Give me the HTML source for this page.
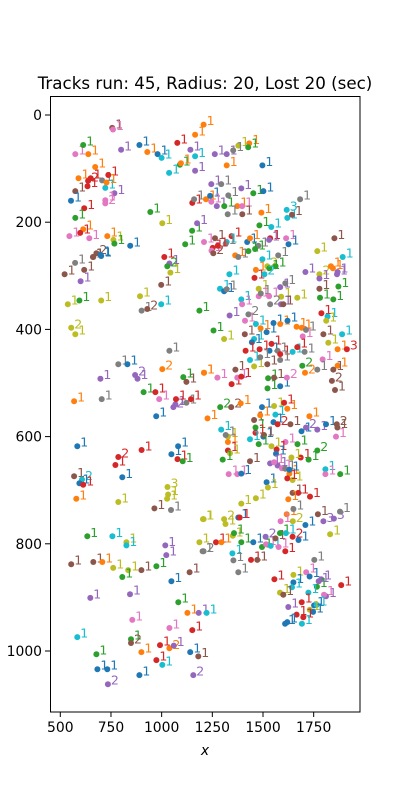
<!DOCTYPE html>
<html><head><meta charset="utf-8"><style>
html,body{margin:0;padding:0;background:#fff;}
svg{display:block;font-family:"DejaVu Sans","Liberation Sans",sans-serif;}
</style></head><body>
<svg id="chart" width="400" height="800" viewBox="0 0 400 800" xmlns="http://www.w3.org/2000/svg">
<rect width="400" height="800" fill="#fff"/>
<text x="205" y="89" text-anchor="middle" font-size="16.7">Tracks run: 45, Radius: 20, Lost 20 (sec)</text>
<g id="marks"></g>
<rect x="50.5" y="96.5" width="309.5" height="615.5" fill="none" stroke="#000" stroke-width="1"/>
<g id="xaxis"></g>
<g id="yaxis"></g>
<text x="205" y="755" text-anchor="middle" font-size="13.9" font-style="italic">x</text>
</svg>
<script>
const xTicks=[500,750,1000,1250,1500,1750];
const yTicks=[0,200,400,600,800,1000];
const palette=["#1f77b4","#ff7f0e","#2ca02c","#d62728","#9467bd","#8c564b","#e377c2","#7f7f7f","#bcbd22","#17becf"];
// group A
const xsA=[574,613,638,756,760,800,890,929,980,1000,1037,1077,1090,1095,1142,1165,1165,1165,672,590,637,650,634,574,553,618,574,613,598,545,643,706,737,722,728,767,722,722,944,1003,732,762,767,845,1013,663,678,702,1116,1150,1151,1160,1175];
const ysA=[73,56,73,24,27,65,56,69,73,80,108,52,93,90,65,104,37,77,97,118,123,118,133,142,160,174,192,213,220,226,230,122,112,136,126,146,159,165,181,202,226,233,240,244,265,265,258,263,241,216,164,157,202];
const csA=[6,2,1,5,6,4,0,1,0,9,9,3,2,1,4,4,1,9,1,1,3,3,3,5,0,3,2,1,3,6,6,7,3,9,1,4,6,6,2,8,1,8,2,0,3,5,5,0,2,2,3,7,4];
const lsA="1111111111"+"1111111111"+"2111111111"+"1111111211"+"1111112111"+"111";
// group B
const xsB=[521,573,618,600,661,699,537,594,702,554,574,1038,1028,1043,998,893,901,929,998,1186,1038,786,831,1003,698,869,881,1107,1122,1209,568,704,911,969,988,1058,1068,1071,1122,1145,973,584,901,786,772,1081,1048,1078,1104,568,607,806];
const ysB=[297,276,289,310,265,261,353,346,346,397,409,277,282,294,317,338,365,362,353,365,440,465,465,474,492,485,492,489,498,481,534,530,517,517,530,545,540,530,537,530,562,618,625,638,653,618,633,642,646,674,680,676];
const csB=[5,7,5,4,5,0,8,2,8,8,8,4,2,8,5,8,7,5,9,2,7,7,0,1,4,4,4,2,5,1,1,7,2,3,6,4,4,3,7,3,0,0,3,3,3,0,0,3,2,5,9,0];
const lsB="1111111112"+"1121111211"+"1112121111"+"1111121111"+"1112111111"+"21";
// group C
const xsC=[594,613,579,786,1029,1027,1032,964,1046,1204,633,757,826,826,1018,1023,1186,1202,554,663,707,761,835,900,806,974,1048,1138,648,844,1082,1127,1183,855,584,1038,1151,849,849,900,992,1038,1060,1141,1181,678,974,1003,683,732,735,890,1156];
const ysC=[687,690,716,722,694,716,708,734,737,754,786,786,797,803,803,821,797,814,838,834,834,845,849,849,862,842,870,853,901,894,909,929,929,942,974,957,961,978,985,1002,989,995,990,1002,1010,1006,1017,1026,1034,1034,1062,1045,1045];
const csC=[0,3,1,8,8,8,8,5,7,8,2,9,8,9,4,4,8,7,5,5,1,8,8,5,2,2,0,5,4,4,2,1,4,6,9,6,3,2,5,1,3,1,4,0,5,2,3,9,0,0,4,0,4];
const lsC="1111311111"+"1111111111"+"1111111111"+"1111111121"+"1211111111"+"212";
// group D
const xsD=[1207,1378,1432,1427,1262,1321,1353,1321,1497,1245,1294,1329,1393,1452,1502,1219,1239,1245,1272,1309,1373,1397,1326,1398,1492,1683,1617,1620,1643,1482,1541,1263,1345,1209,1321,1316,1252,1246,1255,1277,1422,1436,1477,1535,1530,1614,1626,1852,1768,1428,1461,1363,1378,1575,1497,1521,1531,1562,1334,1465,1458,1507,1709,1778,1778,1835,1845,1868,1865,1288,1308,1321,1479,1479,1489,1530,1585,1610,1778,1781,1847,1872,1393,1669,1590,1893];
const ysD=[18,57,53,60,73,73,66,94,94,129,129,150,137,146,142,157,151,162,170,170,170,170,185,185,182,157,177,192,186,206,209,230,226,237,237,240,248,253,258,244,237,230,244,230,233,230,241,230,254,254,250,262,265,262,269,282,286,282,297,289,304,297,293,297,305,282,286,293,297,324,329,325,324,338,333,338,321,314,324,341,344,320,344,341,339,265];
const csD=[1,8,1,2,4,4,7,1,0,4,7,7,4,2,0,1,0,6,4,2,1,6,7,5,1,7,9,9,5,2,9,5,3,6,9,7,3,6,5,3,0,1,7,3,4,6,0,5,8,2,2,1,7,7,9,8,2,2,9,1,3,9,4,8,4,1,1,4,4,9,0,7,8,6,7,6,4,7,5,2,2,2,9,8,8,9];
const lsD="1111111111"+"1111111111"+"1111113111"+"1111111121"+"1111111111"+"1111121111"+"1212111111"+"1111111111"+"111111";
// group E
const xsE=[1397,1535,1589,1600,1335,1411,1428,1465,1552,1585,1621,1256,1308,1410,1456,1518,1488,1666,1691,1696,1712,1788,1818,1812,1798,1822,1890,1868,1914,1445,1414,1483,1532,1572,1542,1646,1669,1705,1585,1436,1456,1486,1585,1521,1794,1868,1694,1707,1768,1847,1840,1855,1209,1275,1364,1345,1373,1393,1525,1522,1585,1618,1555,1289,1343,1390,1226,1495,1555,1604,1620,1561,1729,1294,1456,1486,1463,1463,1552,1572,1635,1690,1712,1768,1811,1864,1867,1860,1436,1327,1327,1316,1502,1505,1479,1542,1611,1670,1327,1337,1567,1564,1686,1725,1768,1301,1436,1535,1572,1555,1640,1593,1610,1630,1646,1630,1331,1373,1393,1808,1808,1881,1620,1518,1524,1646,1674,1732,1625,1465,1393];
const ysE=[353,353,353,353,374,384,372,390,388,390,384,402,418,409,418,405,398,395,397,413,401,370,376,384,409,425,409,437,437,424,440,437,440,440,427,442,433,442,446,457,469,452,457,465,456,468,468,481,475,475,496,513,481,490,475,502,490,488,491,510,506,490,490,545,545,538,566,545,543,537,548,559,562,587,569,560,583,593,573,577,577,590,583,587,577,577,583,600,605,600,610,597,600,597,614,618,610,614,626,631,624,632,639,643,626,643,646,650,654,648,639,659,660,669,681,662,670,670,669,661,670,670,678,685,695,705,705,712,717,715,725];
const csE=[6,7,4,5,4,6,7,9,0,1,0,2,8,5,9,0,1,1,1,6,7,3,9,8,5,8,9,1,3,0,3,3,0,7,3,9,3,7,3,9,8,7,7,5,6,1,2,1,7,5,5,5,1,6,5,3,6,3,2,2,0,6,5,2,5,1,1,0,8,3,1,9,1,9,5,1,2,3,0,3,5,0,4,4,0,5,5,6,9,8,1,7,0,5,2,8,6,2,3,8,3,0,3,2,2,2,5,4,4,6,8,6,7,1,8,0,6,6,0,9,6,2,3,0,8,5,3,3,1,8,8];
const lsE="1211112111"+"1111111111"+"1111111131"+"1111111111"+"1111112211"+"2111111111"+"1212211111"+"1111111112"+"1121121111"+"1111111111"+"1111211111"+"1111111111"+"1111111111"+"1";
// group F
const xsF=[1207,1308,1315,1378,1385,1617,1650,1647,1709,1587,1771,1798,1850,1880,1831,1268,1295,1351,1357,1393,1452,1495,1515,1538,1513,1561,1584,1613,1577,1610,1646,1675,1207,1349,1354,1441,1472,1378,1753,1556,1650,1713,1730,1775,1787,1766,1650,1643,1886,1584,1600,1724,1625,1691,1811,1801,1752,1765,1731,1747,1666,1699,1609,1620,1692,1222];
const ysF=[754,754,763,751,751,745,735,758,765,758,745,758,753,740,782,797,797,785,780,797,797,806,801,804,787,790,780,780,806,814,787,793,814,818,831,830,830,853,830,866,858,853,861,870,866,880,872,881,877,891,895,891,918,909,898,895,915,914,923,927,932,937,949,946,949,929];
const csF=[8,8,8,0,3,1,7,8,0,6,5,4,4,7,8,3,1,8,2,2,0,2,6,9,4,5,2,9,6,3,3,0,7,9,7,3,5,7,7,3,8,6,0,4,4,2,0,9,3,8,5,9,4,3,4,6,0,9,8,0,3,3,0,0,9,9];
const lsF="1211111211"+"1331111111"+"1111211111"+"2121111111"+"1111111111"+"1111111111"+"111111";

const xs=[].concat(xsA,xsB,xsC,xsD,xsE,xsF);
const ys=[].concat(ysA,ysB,ysC,ysD,ysE,ysF);
const cs=[].concat(csA,csB,csC,csD,csE,csF);
const ls=(lsA+lsB+lsC+lsD+lsE+lsF).split("");

const NS="http://www.w3.org/2000/svg";
function sx(v){return 60.3+(v-500)*0.2027;}
function sy(v){return 115+v*0.536;}

const marks=document.getElementById("marks");
for(let i=0;i<xs.length;i++){
  const col=palette[cs[i]%10];
  const c=document.createElementNS(NS,"circle");
  c.setAttribute("cx",sx(xs[i]).toFixed(1));
  c.setAttribute("cy",sy(ys[i]).toFixed(1));
  c.setAttribute("r","3");
  c.setAttribute("fill",col);
  
  
  marks.appendChild(c);
  const t=document.createElementNS(NS,"text");
  t.setAttribute("x",(sx(xs[i])+3).toFixed(1));
  t.setAttribute("y",(sy(ys[i])+0.5).toFixed(1));
  t.setAttribute("font-size","12.5");
  t.setAttribute("fill",col);
  t.textContent=ls[i]||"1";
  
  
  marks.appendChild(t);
}

const xa=document.getElementById("xaxis");
xTicks.forEach(v=>{
  const l=document.createElementNS(NS,"line");
  l.setAttribute("x1",sx(v));l.setAttribute("x2",sx(v));
  l.setAttribute("y1",712);l.setAttribute("y2",717);
  l.setAttribute("stroke","#000");
  
  
  xa.appendChild(l);
  const t=document.createElementNS(NS,"text");
  t.setAttribute("x",sx(v));t.setAttribute("y",732);
  t.setAttribute("text-anchor","middle");t.setAttribute("font-size","13.9");
  t.textContent=v;
  
  
  xa.appendChild(t);
});
const ya=document.getElementById("yaxis");
yTicks.forEach(v=>{
  const l=document.createElementNS(NS,"line");
  l.setAttribute("x1",45);l.setAttribute("x2",50.5);
  l.setAttribute("y1",sy(v));l.setAttribute("y2",sy(v));
  l.setAttribute("stroke","#000");
  
  
  ya.appendChild(l);
  const t=document.createElementNS(NS,"text");
  t.setAttribute("x",42);t.setAttribute("y",sy(v)+5);
  t.setAttribute("text-anchor","end");t.setAttribute("font-size","13.9");
  t.textContent=v;
  
  
  ya.appendChild(t);
});
</script>
</body></html>
